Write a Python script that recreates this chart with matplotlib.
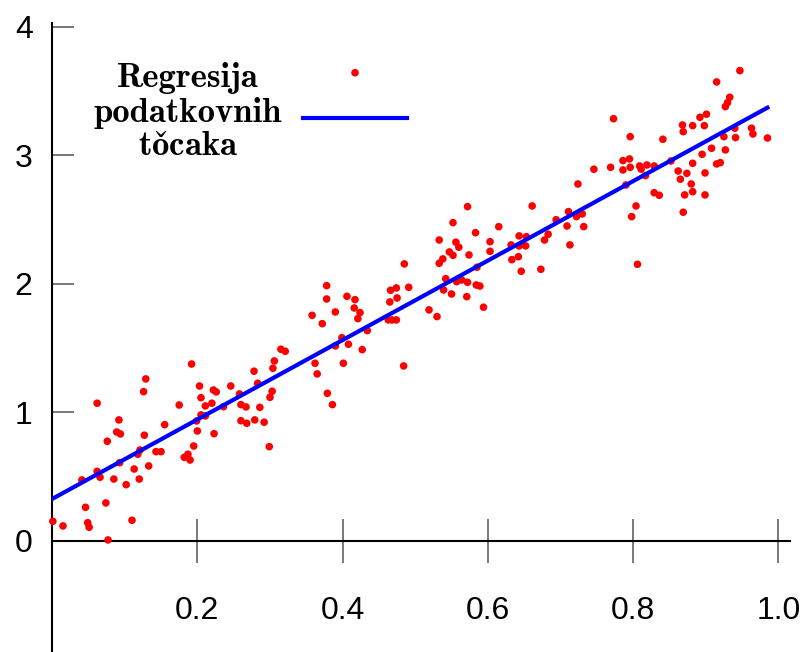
import numpy as np
import matplotlib
matplotlib.use("Agg")
import matplotlib.pyplot as plt

plt.rcParams["mathtext.fontset"] = "cm"

# data points
x = [0.192, 0.129, 0.126, 0.203, 0.222, 0.226, 0.205, 0.211, 0.220, 0.062,
     0.175, 0.092, 0.089, 0.094, 0.127, 0.155, 0.076, 0.200, 0.223, 0.205,
     0.199, 0.211, 0.121, 0.118, 0.143, 0.150, 0.195, 0.187, 0.182, 0.190,
     0.093, 0.062, 0.066, 0.041, 0.085, 0.113, 0.133, 0.120, 0.102, 0.046,
     0.074, 0.001, 0.015, 0.049, 0.051, 0.110, 0.077,
     0.378, 0.378, 0.358, 0.372, 0.315, 0.321, 0.306, 0.304, 0.278, 0.362,
     0.365, 0.246, 0.283, 0.258, 0.303, 0.300, 0.379, 0.236, 0.260, 0.267,
     0.286, 0.260, 0.268, 0.279, 0.292, 0.299, 0.386,
     0.572, 0.552, 0.533, 0.556, 0.560, 0.547, 0.552, 0.574, 0.538, 0.533,
     0.485, 0.542, 0.557, 0.564, 0.572, 0.539, 0.550, 0.571, 0.466, 0.474,
     0.491, 0.475, 0.465, 0.519, 0.530, 0.463, 0.468, 0.474, 0.406, 0.417,
     0.416, 0.424, 0.421, 0.390, 0.434, 0.399, 0.390, 0.408, 0.427, 0.401,
     0.484,
     0.724, 0.661, 0.615, 0.583, 0.603, 0.603, 0.632, 0.643, 0.653, 0.643,
     0.652, 0.694, 0.711, 0.709, 0.722, 0.730, 0.732, 0.683, 0.678, 0.713,
     0.633, 0.642, 0.585, 0.646, 0.673, 0.584, 0.589, 0.594,
     0.947, 0.915, 0.933, 0.930, 0.927, 0.773, 0.892, 0.901, 0.868, 0.882,
     0.898, 0.869, 0.796, 0.841, 0.940, 0.941, 0.963, 0.965, 0.985, 0.925,
     0.908, 0.927, 0.895, 0.786, 0.795, 0.786, 0.796, 0.746, 0.769, 0.809,
     0.819, 0.829, 0.811, 0.852, 0.817, 0.862, 0.874, 0.865, 0.882, 0.915,
     0.920, 0.899, 0.880, 0.882, 0.871, 0.899, 0.829, 0.836, 0.790, 0.804,
     0.798, 0.869, 0.806]
y = [1.377, 1.261, 1.162, 1.206, 1.175, 1.160, 1.115, 1.051, 1.072, 1.072,
     1.058, 0.942, 0.848, 0.833, 0.823, 0.905, 0.776, 0.856, 0.835, 0.981,
     0.934, 0.973, 0.708, 0.675, 0.695, 0.695, 0.739, 0.675, 0.651, 0.630,
     0.609, 0.542, 0.496, 0.475, 0.482, 0.560, 0.584, 0.482, 0.438, 0.262,
     0.296, 0.153, 0.117, 0.142, 0.107, 0.161, 0.008,
     1.987, 1.883, 1.756, 1.691, 1.492, 1.476, 1.401, 1.344, 1.321, 1.383,
     1.300, 1.206, 1.227, 1.144, 1.165, 1.118, 1.149, 1.045, 1.061, 1.043,
     1.040, 0.936, 0.916, 0.942, 0.924, 0.734, 1.061,
     2.602, 2.477, 2.342, 2.325, 2.286, 2.249, 2.223, 2.226, 2.195, 2.161,
     2.156, 2.041, 2.018, 2.031, 2.013, 1.953, 1.922, 1.901, 1.951, 1.969,
     1.974, 1.891, 1.860, 1.798, 1.746, 1.720, 1.720, 1.720, 1.904, 1.878,
     1.813, 1.777, 1.730, 1.782, 1.637, 1.582, 1.518, 1.531, 1.489, 1.383,
     1.362,
     2.778, 2.607, 2.446, 2.399, 2.329, 2.254, 2.304, 2.374, 2.368, 2.296,
     2.296, 2.500, 2.563, 2.451, 2.524, 2.545, 2.446, 2.387, 2.342, 2.304,
     2.189, 2.212, 2.130, 2.099, 2.114, 1.992, 1.984, 1.819,
     3.660, 3.572, 3.453, 3.411, 3.380, 3.286, 3.297, 3.321, 3.237, 3.232,
     3.232, 3.185, 3.146, 3.126, 3.212, 3.139, 3.212, 3.167, 3.136, 3.146,
     3.056, 3.043, 3.009, 2.960, 2.973, 2.887, 2.908, 2.893, 2.908, 2.918,
     2.926, 2.918, 2.893, 2.957, 2.843, 2.879, 2.861, 2.815, 2.939, 2.934,
     2.944, 2.864, 2.778, 2.718, 2.693, 2.693, 2.710, 2.690, 2.770, 2.607,
     2.524, 2.558, 2.153]

# fitted regression line
line_x = [0.0, 0.985]
line_y = [0.327, 3.372]

xticks = [0.2, 0.4, 0.6, 0.8, 1.0]
xticklabels = ["0.2", "0.4", "0.6", "0.8", "1.0"]
yticks = [0, 1, 2, 3, 4]
# "točaka" - the caron is drawn with mathtext since cmb10 has no č glyph
label = "Regresija\npodatkovnih\nto$\\check{\\mathbf{c}}$aka"

fig = plt.figure(figsize=(8.04, 6.52), dpi=100)
ax = fig.add_axes([52.1/804, 0.0, 737.6/804, 629.3/652])

sc = ax.scatter(x, y, s=30, color="#ff0000", edgecolors="none", clip_on=False, zorder=3)
ln, = ax.plot(line_x, line_y, color="#0000ff", lw=3, zorder=4)

ax.set_xlim(0, 1.0156)
ax.set_ylim(-0.864, 4.033)

for s in ["top", "right"]:
    ax.spines[s].set_visible(False)
ax.spines["left"].set_position(("data", 0))
ax.spines["bottom"].set_position(("data", 0))
for s in ["left", "bottom"]:
    ax.spines[s].set_linewidth(1.5)
    ax.spines[s].set_color("black")

ax.set_xticks(xticks)
ax.set_xticklabels(xticklabels)
ax.set_yticks(yticks)
ax.tick_params(axis="x", direction="inout", length=31.7, width=1.1, color="#555555",
               pad=24, labelsize=23, labelfontfamily="Liberation Sans")
ax.tick_params(axis="y", direction="in", length=16, width=1.1, color="#555555",
               pad=14, labelsize=23, labelfontfamily="Liberation Sans")

ax.legend(handles=[sc, ln], labels=["", ""], loc="upper left",
          bbox_to_anchor=(302.7/804, 1 - 64.5/652), bbox_transform=fig.transFigure,
          frameon=False, borderpad=0, borderaxespad=0, handletextpad=0,
          handlelength=4.71, labelspacing=1.12, fontsize=16,
          scatterpoints=1, scatteryoffsets=[0.5])

fig.text(188/804, 1 - 112/652, label, ha="center", va="center",
         multialignment="center", fontsize=25, linespacing=1.1,
         family=["cmb10", "DejaVu Serif"])

fig.savefig("out.png", dpi=100)
